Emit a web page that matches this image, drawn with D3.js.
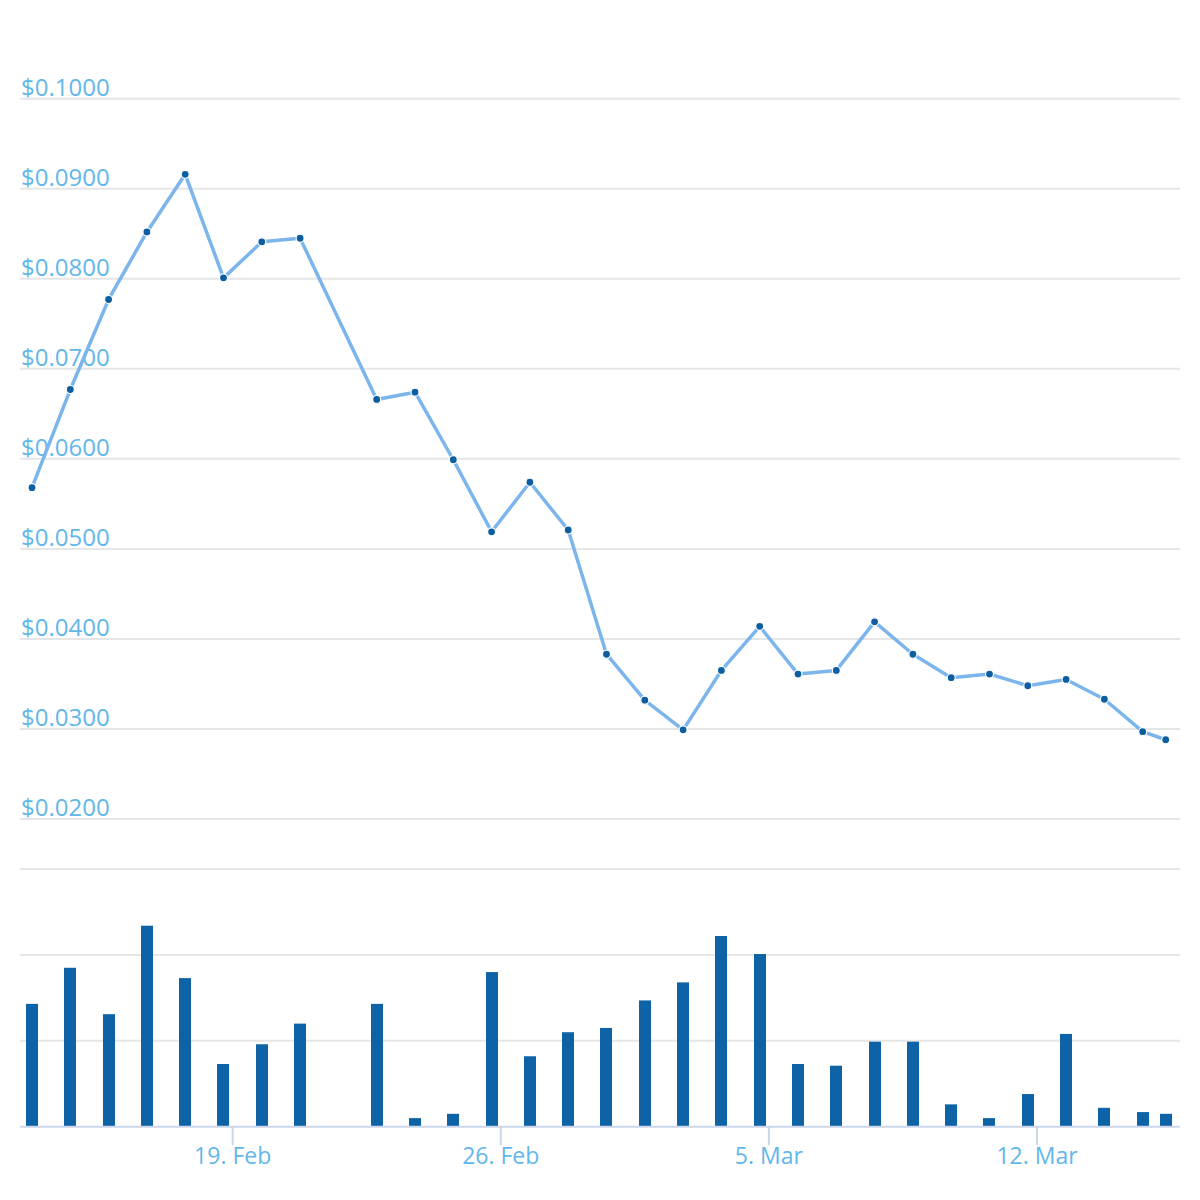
<!DOCTYPE html>
<html>
<head>
<meta charset="utf-8">
<script src="https://cdn.jsdelivr.net/npm/d3@7"></script>
<style>
  html, body { margin: 0; padding: 0; background: #ffffff; }
  svg { display: block; }
</style>
</head>
<body>
<svg id="chart" width="1200" height="1200"></svg>
<script>
// ---- data ----
const dates = [
  "2018-02-13T18:15Z","2018-02-14T18:15Z","2018-02-15T18:15Z","2018-02-16T18:15Z",
  "2018-02-17T18:15Z","2018-02-18T18:15Z","2018-02-19T18:15Z","2018-02-20T18:15Z",
  "2018-02-22T18:15Z","2018-02-23T18:15Z","2018-02-24T18:15Z","2018-02-25T18:15Z",
  "2018-02-26T18:15Z","2018-02-27T18:15Z","2018-02-28T18:15Z","2018-03-01T18:15Z",
  "2018-03-02T18:15Z","2018-03-03T18:15Z","2018-03-04T18:15Z","2018-03-05T18:15Z",
  "2018-03-06T18:15Z","2018-03-07T18:15Z","2018-03-08T18:15Z","2018-03-09T18:15Z",
  "2018-03-10T18:15Z","2018-03-11T18:15Z","2018-03-12T18:15Z","2018-03-13T18:15Z",
  "2018-03-14T18:15Z","2018-03-15T08:40Z"
];
const prices = [
  0.0568, 0.0677, 0.0777, 0.0852, 0.0916, 0.0801, 0.0841, 0.0845,
  0.0666, 0.0674, 0.0599, 0.0519, 0.0574, 0.0521, 0.0383, 0.0332,
  0.0299, 0.0365, 0.0414, 0.0361, 0.0365, 0.0419, 0.0383, 0.0357,
  0.0361, 0.0348, 0.0355, 0.0333, 0.0297, 0.0288
];
const volumes = [ // millions
  1.43, 1.85, 1.31, 2.34, 1.73, 0.73, 0.96, 1.20,
  1.43, 0.10, 0.15, 1.80, 0.82, 1.10, 1.15, 1.47,
  1.68, 2.22, 2.01, 0.73, 0.71, 0.99, 0.99, 0.26,
  0.10, 0.38, 1.08, 0.22, 0.17, 0.15
];
const priceTicks = [0.02, 0.03, 0.04, 0.05, 0.06, 0.07, 0.08, 0.09, 0.10];
const volumeTicks = [0, 1, 2, 3];
const dateTicks = ["2018-02-19T00:00Z","2018-02-26T00:00Z","2018-03-05T00:00Z","2018-03-12T00:00Z"];
const dateTickLabels = ["19. Feb", "26. Feb", "5. Mar", "12. Mar"];

// ---- layout ----
const plotLeft = 20, plotRight = 1180;
const svg = d3.select("#chart");
const parsed = dates.map(d => new Date(d));
const tickDates = dateTicks.map(d => new Date(d));

const x = d3.scaleUtc()
  .domain([parsed[0], parsed[parsed.length - 1]])
  .range([32, 1165.7]);
const yPrice = d3.scaleLinear().domain([0.02, 0.10]).range([819, 98.7]);
const yVol = d3.scaleLinear().domain([0, 3]).range([1126.7, 869]);

const gridColor = "#e6e6e6";
const labelColor = "#62b7ea";

// price gridlines
const pg = svg.append("g");
pg.selectAll("line").data(priceTicks).join("line")
  .attr("x1", plotLeft).attr("x2", plotRight)
  .attr("y1", d => yPrice(d)).attr("y2", d => yPrice(d))
  .attr("stroke", gridColor).attr("stroke-width", 2);
pg.selectAll("text").data(priceTicks).join("text")
  .attr("x", 21).attr("y", d => yPrice(d) - 3)
  .attr("fill", labelColor)
  .attr("font-family", "'Open Sans', sans-serif")
  .attr("font-size", 24)
  .text(d => "$" + d.toFixed(4));

// volume gridlines (no labels)
svg.append("g").selectAll("line").data(volumeTicks.filter(d => d > 0)).join("line")
  .attr("x1", plotLeft).attr("x2", plotRight)
  .attr("y1", d => yVol(d)).attr("y2", d => yVol(d))
  .attr("stroke", gridColor).attr("stroke-width", 2);

// volume bars
const barW = 12;
svg.append("g").selectAll("rect").data(volumes).join("rect")
  .attr("x", (d, i) => Math.round(x(parsed[i]) - barW / 2))
  .attr("width", barW)
  .attr("y", d => yVol(d))
  .attr("height", d => yVol(0) - yVol(d))
  .attr("fill", "#0d63a5");

// x axis line + ticks
const axisColor = "#ccd6eb";
svg.append("line")
  .attr("x1", plotLeft).attr("x2", plotRight)
  .attr("y1", yVol(0)).attr("y2", yVol(0))
  .attr("stroke", axisColor).attr("stroke-width", 2);
const xa = svg.append("g");
xa.selectAll("line").data(tickDates).join("line")
  .attr("x1", d => x(d)).attr("x2", d => x(d))
  .attr("y1", yVol(0)).attr("y2", yVol(0) + 18.5)
  .attr("stroke", axisColor).attr("stroke-width", 2);
xa.selectAll("text").data(tickDates).join("text")
  .attr("x", d => x(d)).attr("y", 1164.3)
  .attr("text-anchor", "middle")
  .attr("fill", labelColor)
  .attr("font-family", "'Open Sans', sans-serif")
  .attr("font-size", 23)
  .text((d, i) => dateTickLabels[i]);

// price line
const line = d3.line()
  .x((d, i) => x(parsed[i]))
  .y(d => yPrice(d));
svg.append("path")
  .datum(prices)
  .attr("d", line)
  .attr("fill", "none")
  .attr("stroke", "#7cb5ec")
  .attr("stroke-width", 3.5)
  .attr("stroke-linejoin", "round")
  .attr("stroke-linecap", "round");

// markers
svg.append("g").selectAll("circle").data(prices).join("circle")
  .attr("cx", (d, i) => x(parsed[i]))
  .attr("cy", d => yPrice(d))
  .attr("r", 4)
  .attr("fill", "#0d5ea0")
  .attr("stroke", "#ffffff")
  .attr("stroke-width", 1.2);
</script>
</body>
</html>
